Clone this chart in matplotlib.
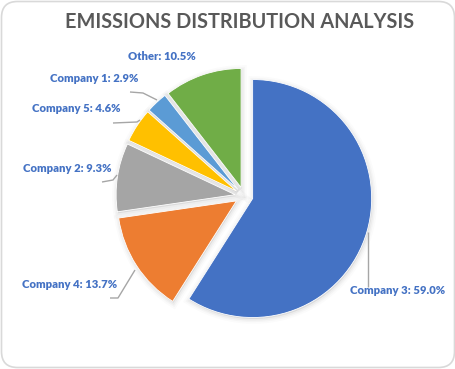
import matplotlib
matplotlib.use("Agg")
import matplotlib.pyplot as plt
from matplotlib.patches import FancyBboxPatch

companies = ["Company 3", "Company 4", "Company 2", "Company 5", "Company 1", "Other"]
shares = [59.0, 13.7, 9.3, 4.6, 2.9, 10.5]
colors = ["#4472C4", "#ED7D31", "#A5A5A5", "#FFC000", "#5B9BD5", "#70AD47"]
title = "EMISSIONS DISTRIBUTION ANALYSIS"

W, H = 456, 369
fig = plt.figure(figsize=(W / 100, H / 100), dpi=100)
fig.patch.set_facecolor("white")
ax = fig.add_axes([0, 0, 1, 1])

# rounded chart border
border = FancyBboxPatch((1.5, 1.5), W - 3, H - 3, boxstyle="round,pad=0,rounding_size=16",
                        transform=ax.transData, facecolor="white", edgecolor="#D9D9D9",
                        linewidth=1.2, zorder=0)
ax.add_patch(border)

cx, cy = 244, H - 196
R = 119
explode = [9] * len(shares)   # in data (pixel) units

# soft shadow
for lw, a in [(7, 0.016), (4.5, 0.022), (2.5, 0.03)]:
    ax.pie(shares, startangle=90, counterclock=False, explode=explode,
           center=(cx + 0.8, cy - 1.5), radius=R, frame=True,
           colors=[(0, 0, 0, a)] * len(shares),
           wedgeprops=dict(edgecolor=(0, 0, 0, a), linewidth=lw))

wedges, _ = ax.pie(shares, startangle=90, counterclock=False, explode=explode,
                   center=(cx, cy), radius=R, colors=colors, frame=True,
                   wedgeprops=dict(edgecolor="white", linewidth=0.6))
ax.set_xlim(0, W)
ax.set_ylim(0, H)
ax.set_aspect("equal")
ax.axis("off")

fig.text(240 / W, 1 - 22 / H, title, ha="center", va="center",
         fontsize=14.3, fontweight="bold", color="#595959", family="Lato")

label_pos = [(398, 291), (70, 284), (67, 169), (76, 109), (94, 78), (162, 56)]
leaders = [
    [(368, 232), (368, 287)],
    [(110, 298), (118, 298), (135, 270)],
    [(102, 182), (113, 180), (117, 175)],
    [(113, 123), (137, 122), (140, 120)],
    [(130, 92), (143, 93), (157, 100)],
    None,
]
for name, val, (lx, ly), ld in zip(companies, shares, label_pos, leaders):
    ax.text(lx, H - ly, f"{name}: {val:.1f}%", ha="center", va="center",
            fontsize=8.1, fontweight="heavy", color="#4472C4", family="Lato")
    if ld:
        xs = [p[0] for p in ld]
        ys = [H - p[1] for p in ld]
        ax.plot(xs, ys, color="#A6A6A6", linewidth=1.0, solid_capstyle="butt")

fig.savefig("out.png", dpi=100)
